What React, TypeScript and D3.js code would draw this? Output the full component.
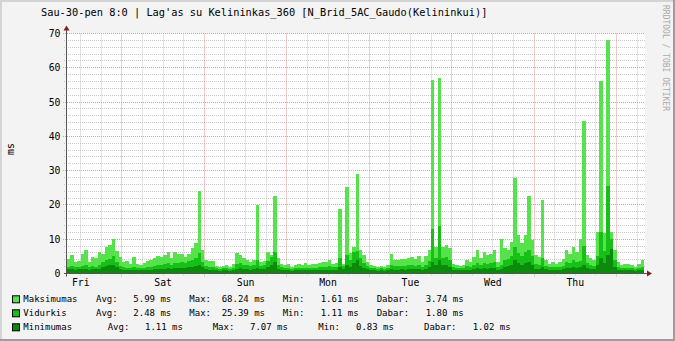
import React from "react";
import * as d3 from "d3";

const TITLE = "Sau-30-pen 8:0 | Lag'as su Kelininkas_360 [N_Brid_5AC_Gaudo(Kelininkui)]";
const WATERMARK = "RRDTOOL / TOBI OETIKER";
const UNIT = "ms";
const START = new Date(2015, 0, 30, 8, 0, 0);
const HOURS = 168;

// hourly values (ms) from Fri 8:00
const maxVals = [
  4.1, 5.4, 3.4, 3.6, 5.8, 6.8, 3.4, 4.9, 4.4, 6.3, 5.8, 7.8,
  8.3, 10.0, 6.5, 4.9, 3.4, 3.7, 2.9, 4.9, 2.9, 2.4, 3.1, 3.7,
  3.9, 4.4, 5.1, 4.7, 5.4, 6.3, 4.4, 6.3, 5.8, 5.7, 4.9, 5.8,
  7.3, 8.8, 24.0, 6.8, 3.9, 3.7, 3.6, 2.1, 1.9, 2.1, 2.4, 1.9,
  2.7, 6.0, 5.4, 4.4, 3.9, 3.4, 3.9, 20.0, 3.4, 3.7, 6.3, 5.4,
  22.5, 4.4, 2.9, 2.4, 2.9, 1.9, 2.4, 2.7, 2.4, 3.1, 2.4, 2.7,
  2.9, 3.1, 3.4, 3.4, 3.9, 2.9, 3.1, 18.7, 2.9, 25.2, 6.0, 7.8,
  29.0, 6.8, 5.4, 3.4, 2.4, 2.1, 1.9, 2.1, 1.9, 2.4, 5.7, 3.9,
  3.9, 4.1, 4.1, 4.4, 4.7, 4.1, 5.1, 3.4, 5.1, 6.8, 56.4, 7.8,
  57.0, 7.8, 8.3, 7.3, 2.9, 2.4, 2.1, 2.4, 3.9, 3.4, 4.9, 6.8,
  4.4, 6.3, 5.4, 5.8, 6.8, 3.4, 10.0, 7.3, 6.8, 9.3, 27.8, 11.2,
  8.8, 11.2, 22.6, 9.7, 5.4, 4.9, 21.3, 3.9, 2.9, 3.4, 2.9, 3.4,
  4.1, 6.8, 5.8, 7.8, 6.3, 10.0, 44.4, 5.4, 4.4, 3.9, 12.0, 56.1,
  11.7, 68.24, 12.2, 6.8, 3.4, 2.4, 2.9, 2.7, 2.4, 1.9, 2.7, 3.9,
];
const avgVals = [
  2.0, 2.2, 1.9, 2.0, 2.3, 2.6, 1.8, 2.2, 2.0, 2.6, 3.4, 3.9,
  4.2, 5.0, 3.5, 2.2, 1.8, 1.7, 1.6, 2.0, 1.6, 1.5, 1.7, 1.9,
  2.0, 2.3, 2.6, 2.4, 2.8, 3.0, 2.5, 3.2, 3.0, 3.4, 3.0, 3.6,
  4.0, 4.6, 6.0, 3.5, 2.2, 2.0, 1.9, 1.5, 1.4, 1.5, 1.6, 1.4,
  1.7, 2.9, 3.0, 2.6, 2.4, 2.2, 2.4, 4.0, 2.3, 2.5, 3.6, 4.7,
  6.4, 2.6, 1.8, 1.6, 1.7, 1.4, 1.5, 1.6, 1.5, 1.7, 1.5, 1.6,
  1.7, 1.8, 1.9, 2.0, 2.1, 1.8, 2.0, 4.5, 2.2, 5.5, 4.0, 6.2,
  6.5, 4.4, 3.2, 2.2, 1.6, 1.5, 1.4, 1.5, 1.4, 1.6, 2.6, 2.2,
  2.2, 2.3, 2.2, 2.4, 2.5, 2.3, 2.6, 2.0, 2.6, 3.6, 13.1, 4.5,
  14.0, 4.6, 4.8, 3.9, 1.8, 1.6, 1.5, 1.6, 2.1, 2.0, 2.6, 3.2,
  2.5, 3.0, 2.8, 3.0, 3.3, 2.0, 2.6, 3.8, 4.2, 5.0, 7.7, 6.0,
  5.0, 6.2, 7.0, 5.2, 2.8, 2.6, 4.5, 2.2, 1.8, 2.0, 1.8, 2.0,
  2.2, 3.4, 3.2, 3.8, 3.4, 3.6, 8.0, 3.2, 2.6, 2.3, 5.0, 12.0,
  6.5, 25.39, 10.0, 3.8, 2.0, 1.6, 1.7, 1.6, 1.5, 1.4, 1.6, 2.0,
];
const minVals = [
  1.2, 1.2, 1.1, 1.2, 1.3, 1.4, 1.1, 1.2, 1.2, 1.4, 1.9, 2.2,
  2.4, 2.6, 1.8, 1.2, 1.0, 1.0, 0.95, 1.1, 0.95, 0.9, 1.0, 1.0,
  1.1, 1.2, 1.3, 1.3, 1.4, 1.5, 1.3, 1.6, 1.5, 1.7, 1.6, 1.8,
  2.0, 2.2, 2.6, 1.8, 1.2, 1.1, 1.0, 0.9, 0.85, 0.9, 0.9, 0.85,
  0.95, 1.4, 1.5, 1.3, 1.2, 1.1, 1.2, 1.6, 1.2, 1.3, 1.8, 2.6,
  3.4, 1.4, 1.0, 0.9, 0.95, 0.85, 0.9, 0.9, 0.88, 0.95, 0.9, 0.92,
  0.95, 1.0, 1.0, 1.1, 1.1, 1.0, 1.1, 1.8, 1.2, 2.6, 2.0, 3.0,
  3.8, 2.2, 1.6, 1.2, 0.9, 0.88, 0.85, 0.88, 0.83, 0.9, 1.3, 1.1,
  1.1, 1.2, 1.1, 1.2, 1.3, 1.2, 1.3, 1.1, 1.3, 1.8, 3.5, 2.4,
  4.0, 2.5, 2.6, 2.0, 1.0, 0.9, 0.88, 0.9, 1.1, 1.0, 1.3, 1.6,
  1.3, 1.5, 1.4, 1.5, 1.6, 1.1, 1.2, 1.9, 2.1, 2.5, 3.8, 3.0,
  2.5, 3.1, 3.5, 2.6, 1.4, 1.3, 2.0, 1.2, 1.0, 1.1, 1.0, 1.1,
  1.2, 1.7, 1.6, 1.9, 1.7, 1.8, 2.4, 1.6, 1.3, 1.2, 2.5, 4.5,
  3.0, 5.5, 7.07, 2.0, 1.1, 0.9, 0.95, 0.9, 0.88, 0.85, 0.9, 1.1,
];

const yTickValues = [0, 10, 20, 30, 40, 50, 60, 70];
const seriesNames = ["Maksimumas", "Vidurkis", "Minimumas"];
const seriesColors = ["#55e24b", "#17c017", "#0b8a0b"];
const statLabels = ["Avg:", "Max:", "Min:", "Dabar:"];
const statsMaksimumas = ["5.99", "68.24", "1.61", "3.74"];
const statsVidurkis = ["2.48", "25.39", "1.11", "1.80"];
const statsMinimumas = ["1.11", "7.07", "0.83", "1.02"];

// layout
const W = 675, H = 341;
const PL = 67, PR = 644, PT = 33.5, PB = 273.5;
const FONT = "'DejaVu Sans Mono', monospace";
const legendColsA = [23.3, 96, 133.3, 189.3, 221.7, 282.7, 320.7, 376.7, 425.7];
const legendColsB = [23.3, 107.7, 145, 212.7, 250, 318.3, 356, 424, 472.7];

export default function App() {
  const end = d3.timeHour.offset(START, HOURS);
  const x = d3.scaleTime().domain([START, end]).range([PL, PR]);
  const y = d3.scaleLinear().domain([0, 70]).range([PB, PT]);
  const series = [maxVals, avgVals, minVals];
  const stats = [statsMaksimumas, statsVidurkis, statsMinimumas];

  const area = d3
    .area<number>()
    .x((_, i) => x(d3.timeHour.offset(START, i)))
    .y0(PB - 0.5)
    .y1((d) => y(d))
    .curve(d3.curveStepAfter);

  const sixHours = d3.timeHour.every(6)!.range(d3.timeHour.offset(START, 1), end);
  const minorX = sixHours.filter((t) => t.getHours() !== 0);
  const majorX = sixHours.filter((t) => t.getHours() === 0);
  const dayNoons = d3
    .timeDay.range(d3.timeDay.floor(START), end)
    .map((t) => d3.timeHour.offset(t, 12))
    .filter((t) => t >= START && t <= end);
  const fmt = d3.timeFormat("%a");

  const minorY = d3.range(0, 71, 2).filter((v) => v % 10 !== 0);
  const crisp = (v: number) => Math.round(v - 0.5) + 0.5;

  return (
    <svg
      width={W}
      height={H}
      style={{ position: "absolute", left: 0, top: 0, display: "block" }}
      fontFamily={FONT}
    >
      <rect x={0} y={0} width={W} height={H} fill="#f3f3f3" />
      {/* bevel frame */}
      <path d={`M0,0 H${W} V2 H2 V${H} H0 Z`} fill="#d4d4d4" />
      <path d={`M${W},${H} H0 V${H - 2} H${W - 2} V0 H${W} Z`} fill="#9e9e9e" />
      <rect x={PL} y={PT - 0.5} width={PR - PL + 1} height={PB - PT} fill="#ffffff" />

      {/* grid */}
      {minorY.map((v) => (
        <line key={"hy" + v} x1={PL - 3} x2={PR + 1} y1={crisp(y(v))} y2={crisp(y(v))}
          stroke="#c8c8c8" strokeDasharray="1,1" />
      ))}
      {minorX.map((t) => (
        <line key={"vx" + t.getTime()} x1={crisp(x(t))} x2={crisp(x(t))} y1={PT} y2={PB + 2.5}
          stroke="#c8c8c8" strokeDasharray="1,1" />
      ))}
      {yTickValues.filter((v) => v > 0).map((v) => (
        <line key={"my" + v} x1={PL - 4} x2={PR + 1} y1={crisp(y(v))} y2={crisp(y(v))}
          stroke="#e29a9a" strokeDasharray="1,1" />
      ))}
      {majorX.map((t) => (
        <line key={"mx" + t.getTime()} x1={crisp(x(t))} x2={crisp(x(t))} y1={PT} y2={PB + 3.5}
          stroke="#e29a9a" strokeDasharray="1,1" />
      ))}

      {/* data */}
      {series.map((vals, k) => (
        <path key={"s" + k} d={area(vals.concat([vals[vals.length - 1]]))!} fill={seriesColors[k]}
          shapeRendering="crispEdges" />
      ))}

      {/* axes */}
      <line x1={PL - 3} x2={PR + 3} y1={PB} y2={PB} stroke="#555" />
      <line x1={PL - 0.5} x2={PL - 0.5} y1={PB + 3} y2={PT - 4} stroke="#555" />
      <path d={`M${PL - 3.5},${PT - 3} L${PL + 2.5},${PT - 3} L${PL - 0.5},${PT - 8} Z`} fill="#8b1c1c" />
      <path d={`M${PR + 3},${PB - 3} L${PR + 3},${PB + 3} L${PR + 8},${PB} Z`} fill="#8b1c1c" />

      {/* y tick labels */}
      {yTickValues.map((v) => (
        <text key={"yl" + v} x={60.5} y={y(v) + 3.5} fontSize={9.8} textAnchor="end" fill="#000">
          {v}
        </text>
      ))}
      {/* x labels */}
      {dayNoons.map((t) => (
        <text key={"xl" + t.getTime()} x={x(t)} y={285.5} fontSize={9.8} textAnchor="middle" fill="#000">
          {fmt(t)}
        </text>
      ))}

      {/* unit */}
      <text transform="translate(14,149) rotate(-90)" fontSize={9.8} textAnchor="middle" fill="#000">
        {UNIT}
      </text>

      {/* title */}
      <text x={41} y={16.3} fontSize={10.3} fill="#000" style={{ whiteSpace: "pre" }}>
        {TITLE}
      </text>

      {/* watermark */}
      <text transform="translate(662.7,5) rotate(90)" fontSize={8} fill="#aaaaaa">
        {WATERMARK}
      </text>

      {/* legend */}
      {seriesNames.map((name, r) => {
        const cols = r < 2 ? legendColsA : legendColsB;
        const by = 302.3 + r * 14;
        const st = stats[r];
        return (
          <g key={"lg" + r} fontSize={9} fill="#000">
            <rect x={12.5} y={by - 6.5} width={7} height={7} fill={seriesColors[r]} stroke="#000" />
            <text x={cols[0]} y={by}>{name}</text>
            {statLabels.map((lab, j) => (
              <React.Fragment key={lab}>
                <text x={cols[1 + j * 2]} y={by}>{lab}</text>
                <text x={cols[2 + j * 2]} y={by}>{st[j] + " " + UNIT}</text>
              </React.Fragment>
            ))}
          </g>
        );
      })}
    </svg>
  );
}
